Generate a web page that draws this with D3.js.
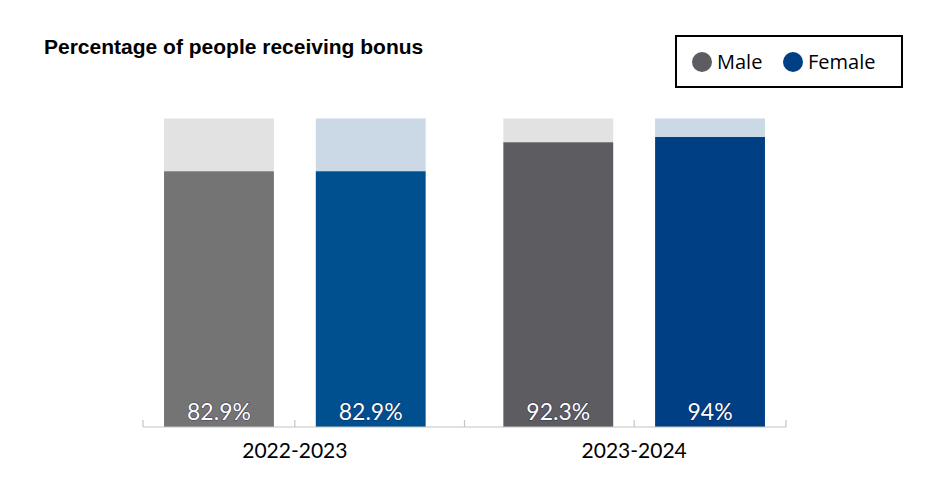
<!DOCTYPE html>
<html>
<head>
<meta charset="utf-8">
<script src="https://cdn.jsdelivr.net/npm/d3@7.9.0/dist/d3.min.js"></script>
<style>
  body { margin: 0; background: #fff; }
  svg { display: block; }
</style>
</head>
<body>
<svg id="chart" width="930" height="500"></svg>
<script>
// Data
const periods = ["2022-2023", "2023-2024"];
const genders = ["Male", "Female"];
const maleValues = [82.9, 92.3];
const femaleValues = [82.9, 94];
const valueLabels = [["82.9%", "82.9%"], ["92.3%", "94%"]];

const barColors = {
  "2022-2023": { Male: "#747474", Female: "#00508f" },
  "2023-2024": { Male: "#5d5c61", Female: "#013f85" },
};
const restColors = { Male: "#e2e2e2", Female: "#cbd8e6" };
const legendColors = { Male: "#5d5c61", Female: "#013f85" };

const rows = periods.map((p, i) => ({
  period: p,
  bars: [
    { gender: "Male", value: maleValues[i], label: valueLabels[i][0] },
    { gender: "Female", value: femaleValues[i], label: valueLabels[i][1] },
  ],
}));

const svg = d3.select("#chart");

const axisLeft = 143, axisRight = 786, axisY = 427;

const x0 = d3.scaleBand()
  .domain(periods)
  .range([axisLeft, axisRight])
  .paddingInner(0.229)
  .paddingOuter(0.062);

const x1 = d3.scaleBand()
  .domain(genders)
  .range([0, x0.bandwidth()])
  .paddingInner(0.276)
  .paddingOuter(0);

const y = d3.scaleLinear().domain([0, 100]).range([axisY, 118.5]);

// title
svg.append("text")
  .attr("x", 44)
  .attr("y", 54)
  .attr("font-family", "'Liberation Sans', Arial, sans-serif")
  .attr("font-weight", 700)
  .attr("font-size", 21)
  .attr("fill", "#000")
  .text("Percentage of people receiving bonus");

// legend
const legend = svg.append("g");
legend.append("rect")
  .attr("x", 676).attr("y", 36)
  .attr("width", 226).attr("height", 51)
  .attr("fill", "#fff")
  .attr("stroke", "#000")
  .attr("stroke-width", 2);

const legendX = { Male: 702, Female: 793 };
genders.forEach((g) => {
  legend.append("circle")
    .attr("cx", legendX[g]).attr("cy", 62).attr("r", 10)
    .attr("fill", legendColors[g]);
  legend.append("text")
    .attr("x", legendX[g] + 15).attr("y", 69)
    .attr("font-family", "'Open Sans', sans-serif")
    .attr("font-size", 20)
    .attr("fill", "#000")
    .text(g);
});

// bars
const groups = svg.append("g")
  .selectAll("g")
  .data(rows)
  .join("g")
  .attr("transform", (d) => `translate(${x0(d.period)},0)`);

groups.selectAll("rect.rest")
  .data((d) => d.bars)
  .join("rect")
  .attr("class", "rest")
  .attr("x", (d) => x1(d.gender))
  .attr("y", y(100))
  .attr("width", x1.bandwidth())
  .attr("height", (d) => y(d.value) - y(100))
  .attr("fill", (d) => restColors[d.gender]);

groups.each(function (row) {
  d3.select(this).selectAll("rect.val")
    .data(row.bars)
    .join("rect")
    .attr("class", "val")
    .attr("x", (d) => x1(d.gender))
    .attr("y", (d) => y(d.value))
    .attr("width", x1.bandwidth())
    .attr("height", (d) => y(0) - y(d.value))
    .attr("fill", (d) => barColors[row.period][d.gender]);
});

groups.selectAll("text.lbl")
  .data((d) => d.bars)
  .join("text")
  .attr("class", "lbl")
  .attr("x", (d) => x1(d.gender) + x1.bandwidth() / 2)
  .attr("y", y(0) - 7)
  .attr("text-anchor", "middle")
  .attr("font-family", "Lato, sans-serif")
  .attr("font-size", 23)
  .attr("fill", "#fff")
  .attr("stroke", "rgba(10,10,60,0.55)")
  .attr("stroke-width", 1.2)
  .attr("paint-order", "stroke")
  .text((d) => d.label);

// axis
const axis = svg.append("g").attr("stroke", "#c4c4c4").attr("stroke-width", 1.2);
axis.append("line")
  .attr("x1", axisLeft).attr("x2", axisRight)
  .attr("y1", axisY).attr("y2", axisY);

const tickXs = [axisLeft, axisRight];
periods.forEach((p, i) => {
  // between the two bars of a period
  tickXs.push(x0(p) + (x1("Male") + x1.bandwidth() + x1("Female")) / 2);
  if (i > 0) tickXs.push((x0(periods[i - 1]) + x0.bandwidth() + x0(p)) / 2);
});
axis.selectAll("line.tick")
  .data(tickXs)
  .join("line")
  .attr("class", "tick")
  .attr("x1", (d) => d).attr("x2", (d) => d)
  .attr("y1", axisY).attr("y2", axisY - 7);

svg.append("g")
  .selectAll("text")
  .data(periods)
  .join("text")
  .attr("x", (d) => x0(d) + x0.bandwidth() / 2)
  .attr("y", 458)
  .attr("text-anchor", "middle")
  .attr("font-family", "Lato, sans-serif")
  .attr("font-size", 21)
  .attr("fill", "#000")
  .text((d) => d);
</script>
</body>
</html>
